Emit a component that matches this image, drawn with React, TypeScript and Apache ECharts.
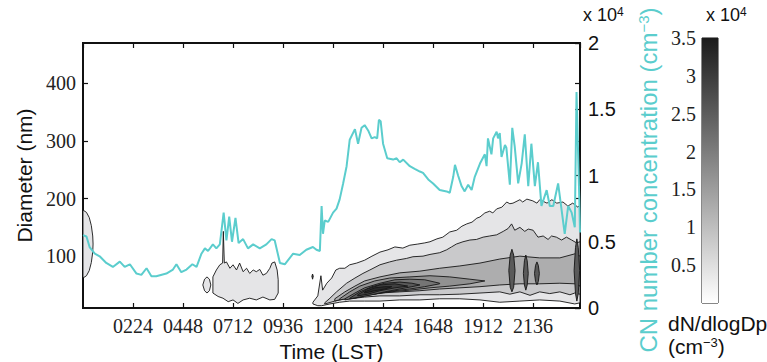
import React, { useEffect, useRef } from "react";
import * as echarts from "echarts";

// ---- Axis / tick labels ----
const timeTickLabels = ["0224", "0448", "0712", "0936", "1200", "1424", "1648", "1912", "2136"];
const TIME_STEP = 144; // minutes between tick labels

// ---- CN number concentration (x 10^4 cm^-3), time in minutes (LST) ----
const cnTime = [0, 10, 19, 34, 48, 67, 86, 106, 120, 135, 154, 168, 183, 197, 211, 240, 259, 269, 283, 298, 315, 327, 341, 351, 360, 374, 384, 394, 405, 413, 421, 429, 439, 448, 461, 475, 490, 509, 528, 543, 552, 567, 581, 605, 624, 643, 662, 672, 682, 687, 691, 696, 706, 720, 730, 739, 749, 759, 768, 783, 792, 802, 811, 821, 831, 840, 847, 852, 857, 864, 876, 893, 903, 912, 922, 941, 955, 970, 979, 994, 1008, 1027, 1047, 1056, 1066, 1071, 1080, 1090, 1099, 1109, 1119, 1128, 1143, 1157, 1162, 1166, 1176, 1181, 1191, 1195, 1200, 1205, 1215, 1219, 1229, 1236, 1243, 1253, 1263, 1272, 1282, 1291, 1301, 1310, 1320, 1335, 1344, 1354, 1368, 1378, 1387, 1397, 1407, 1416, 1421, 1429, 1431];
const cnValue = [0.55, 0.54, 0.46, 0.41, 0.39, 0.34, 0.31, 0.35, 0.31, 0.33, 0.26, 0.25, 0.3, 0.24, 0.24, 0.26, 0.29, 0.33, 0.27, 0.29, 0.33, 0.31, 0.41, 0.45, 0.43, 0.48, 0.45, 0.48, 0.72, 0.51, 0.69, 0.5, 0.68, 0.49, 0.52, 0.45, 0.48, 0.45, 0.48, 0.52, 0.51, 0.34, 0.33, 0.41, 0.4, 0.44, 0.46, 0.44, 0.43, 0.77, 0.56, 0.66, 0.65, 0.72, 0.75, 0.82, 0.94, 1.07, 1.27, 1.35, 1.24, 1.36, 1.38, 1.34, 1.28, 1.29, 1.28, 1.42, 1.41, 1.24, 1.13, 1.12, 1.13, 1.1, 1.12, 1.07, 1.05, 1.03, 1.02, 0.97, 0.94, 0.89, 0.88, 0.87, 0.99, 1.08, 1.0, 0.92, 0.88, 0.93, 0.89, 0.99, 1.09, 1.16, 1.07, 1.28, 1.16, 1.28, 1.33, 1.28, 1.32, 1.14, 1.23, 1.21, 0.93, 1.36, 1.22, 0.94, 1.09, 1.31, 0.92, 1.24, 0.92, 1.1, 0.77, 0.89, 0.77, 0.77, 0.94, 0.74, 0.56, 0.77, 0.72, 0.61, 1.63, 0.82, 0.57];

// ---- Size distribution contours (dN/dlogDp) ----
// each band: upper boundary (time min, diameter nm) and lower boundary (time min, diameter nm)
// main event, outermost level
const mainL1UpTime = [662, 676, 685, 690, 702, 716, 728, 739, 754, 768, 788, 811, 832, 855, 878, 898, 921, 941, 964, 984, 999, 1019, 1036, 1056, 1076, 1091, 1105, 1120, 1134, 1143, 1157, 1171, 1180, 1191, 1206, 1220, 1229, 1238, 1258, 1266, 1278, 1295, 1307, 1315, 1336, 1350, 1364, 1382, 1396, 1410, 1425, 1431];
const mainL1Upper = [20, 31, 66, 41, 53, 62, 76, 79, 79, 85, 88, 93, 100, 107, 111, 116, 114, 119, 121, 123, 125, 130, 133, 142, 145, 152, 156, 159, 166, 168, 175, 178, 175, 182, 185, 194, 191, 192, 198, 194, 199, 196, 192, 198, 192, 198, 192, 194, 187, 192, 185, 189];
const mainL1LoTime = [662, 676, 687, 711, 739, 768, 811, 855, 912, 970, 1027, 1085, 1143, 1200, 1258, 1315, 1373, 1416, 1431];
const mainL1Lower = [17, 14, 14, 17, 20, 22, 22, 22, 24, 24, 26, 26, 24, 20, 22, 24, 22, 17, 19];
const mainL2UpTime = [696, 711, 730, 759, 783, 806, 826, 855, 883, 903, 931, 950, 979, 999, 1027, 1047, 1061, 1075, 1094, 1114, 1133, 1152, 1171, 1191, 1210, 1224, 1234, 1243, 1258, 1272, 1282, 1296, 1310, 1325, 1339, 1349, 1363, 1378, 1392, 1407, 1421, 1431];
const mainL2Upper = [19, 27, 38, 53, 62, 70, 76, 85, 90, 93, 96, 99, 100, 103, 106, 111, 116, 121, 125, 128, 129, 133, 135, 137, 143, 148, 156, 145, 150, 143, 147, 145, 133, 135, 129, 135, 133, 128, 133, 128, 123, 125];
const mainL2LoTime = [696, 725, 754, 783, 811, 855, 912, 970, 1027, 1085, 1143, 1200, 1229, 1258, 1287, 1315, 1344, 1373, 1402, 1416, 1431];
const mainL2Lower = [17, 22, 26, 27, 29, 31, 31, 33, 33, 34, 36, 38, 34, 38, 32, 38, 35, 38, 33, 36, 34];
const mainL3Time = [725, 754, 783, 811, 855, 912, 970, 1027, 1085, 1143, 1200, 1258, 1315, 1373, 1416, 1431];
const mainL3Upper = [26, 38, 48, 57, 64, 71, 74, 79, 83, 88, 95, 100, 97, 97, 104, 100];
const mainL3Lower = [22, 27, 31, 33, 36, 38, 40, 43, 45, 47, 50, 52, 52, 53, 52, 48];
const mainL4Time = [739, 768, 797, 840, 883, 941, 999, 1056, 1114, 1157];
const mainL4Upper = [26, 38, 48, 57, 62, 64, 66, 64, 60, 57];
const mainL4Lower = [24, 27, 31, 34, 38, 41, 45, 48, 52, 57];
const mainL5Time = [754, 783, 811, 855, 898, 941, 984, 1027];
const mainL5Upper = [26, 36, 45, 53, 59, 60, 59, 53];
const mainL5Lower = [24, 27, 31, 36, 40, 43, 47, 52];
const mainL6Time = [768, 797, 832, 869, 912, 947, 970];
const mainL6Upper = [27, 38, 47, 53, 55, 53, 50];
const mainL6Lower = [26, 29, 33, 38, 43, 47, 50];
const mainL7Time = [791, 820, 855, 898, 935];
const mainL7Upper = [33, 43, 50, 52, 48];
const mainL7Lower = [31, 34, 40, 45, 48];
const mainL8Time = [811, 840, 869, 889];
const mainL8Upper = [38, 45, 47, 47];
const mainL8Lower = [36, 40, 43, 47];
// narrow dark streaks in the evening
const streakATime = [1226, 1230, 1235, 1240, 1244];
const streakAUpper = [75, 102, 112, 102, 75];
const streakALower = [75, 46, 38, 46, 75];
const streakBTime = [1268, 1271, 1275, 1279, 1282];
const streakBUpper = [70, 92, 102, 92, 70];
const streakBLower = [70, 50, 41, 50, 70];
const streakCTime = [1300, 1303, 1307, 1311, 1314];
const streakCUpper = [70, 84, 90, 84, 70];
const streakCLower = [70, 56, 50, 56, 70];
const streakDTime = [1414, 1418, 1422, 1426, 1430];
const streakDUpper = [75, 115, 130, 115, 75];
const streakDLower = [75, 35, 22, 35, 75];
const tickMarkTime = [659, 661, 663];
const tickMarkUpper = [65, 69, 65];
const tickMarkLower = [65, 60, 65];
// morning blob
const mornUpTime = [374, 384, 394, 402, 404, 407, 413, 423, 432, 442, 451, 461, 471, 480, 490, 499, 509, 518, 528, 538, 544, 552, 559, 562];
const mornUpper = [64, 76, 85, 88, 143, 88, 90, 79, 85, 76, 88, 73, 79, 70, 76, 73, 77, 67, 70, 79, 88, 90, 76, 59];
const mornLoTime = [374, 389, 403, 418, 432, 446, 461, 480, 499, 518, 538, 552, 562];
const mornLower = [36, 30, 27, 21, 24, 18, 24, 27, 24, 29, 24, 25, 36];
const mornSmallTime = [345, 350, 357, 364, 368];
const mornSmallUpper = [50, 60, 64, 60, 50];
const mornSmallLower = [50, 40, 36, 40, 50];
// midnight blob at left edge
const nightTime = [0, 10, 18, 24, 28, 29];
const nightUpper = [180, 176, 167, 153, 135, 121];
const nightLower = [62, 66, 75, 89, 107, 121];

// ---- colour levels ----
const levelColors = ["#e5e5e7", "#c9c9cb", "#adadae", "#919191", "#757575", "#5a5a5a", "#404040", "#2a2a2a"];

const band = (tu: number[], up: number[], tl: number[], lo: number[], c: string) => ({ tu, up, tl, lo, c });
const bands = [
  band(nightTime, nightUpper, nightTime, nightLower, levelColors[0]),
  band(mornSmallTime, mornSmallUpper, mornSmallTime, mornSmallLower, levelColors[0]),
  band(mornUpTime, mornUpper, mornLoTime, mornLower, levelColors[0]),
  band(tickMarkTime, tickMarkUpper, tickMarkTime, tickMarkLower, levelColors[5]),
  band(mainL1UpTime, mainL1Upper, mainL1LoTime, mainL1Lower, levelColors[0]),
  band(mainL2UpTime, mainL2Upper, mainL2LoTime, mainL2Lower, levelColors[1]),
  band(mainL3Time, mainL3Upper, mainL3Time, mainL3Lower, levelColors[2]),
  band(mainL4Time, mainL4Upper, mainL4Time, mainL4Lower, levelColors[3]),
  band(mainL5Time, mainL5Upper, mainL5Time, mainL5Lower, levelColors[4]),
  band(mainL6Time, mainL6Upper, mainL6Time, mainL6Lower, levelColors[5]),
  band(mainL7Time, mainL7Upper, mainL7Time, mainL7Lower, levelColors[6]),
  band(mainL8Time, mainL8Upper, mainL8Time, mainL8Lower, levelColors[7]),
  band(streakATime, streakAUpper, streakATime, streakALower, levelColors[5]),
  band(streakBTime, streakBUpper, streakBTime, streakBLower, levelColors[5]),
  band(streakCTime, streakCUpper, streakCTime, streakCLower, levelColors[5]),
  band(streakDTime, streakDUpper, streakDTime, streakDLower, levelColors[5]),
];

const colorbarMax = 3.5;

const SERIF = "Liberation Serif";
const SANS = "Liberation Sans";
const TEAL = "#5bcdcd";

export default function App() {
  const ref = useRef<HTMLDivElement>(null);

  useEffect(() => {
    if (!ref.current) return;
    const chart = echarts.init(ref.current, undefined, { renderer: "svg" });

    const timeFmt = (v: number) => {
      const i = Math.round(v / TIME_STEP) - 1;
      return Math.abs(v - (i + 1) * TIME_STEP) < 1e-6 && i >= 0 && i < timeTickLabels.length ? timeTickLabels[i] : "";
    };

    const frameLine = () => ({ show: true, onZero: false, lineStyle: { color: "#111", width: 2 } });
    const inTick = () => ({ show: true, inside: true, length: 5, lineStyle: { color: "#111", width: 1.2 } });

    const option: any = {
      animation: false,
      backgroundColor: "#ffffff",
      grid: [
        { left: 83, top: 43, width: 497, height: 265, containLabel: false, outerBoundsMode: "none", show: true, borderColor: "#111", borderWidth: 2, backgroundColor: "transparent" },
        { left: 702, top: 38, width: 16, height: 265, containLabel: false, outerBoundsMode: "none", show: true, borderColor: "#111", borderWidth: 1, backgroundColor: "transparent" },
      ],
      xAxis: [
        {
          type: "value", gridIndex: 0, min: 0, max: 1431, interval: TIME_STEP, position: "bottom",
          axisLine: frameLine(), axisTick: inTick(),
          axisLabel: { show: true, formatter: timeFmt, showMinLabel: false, showMaxLabel: false, fontFamily: SERIF, fontSize: 20, color: "#222", margin: 8 },
          splitLine: { show: false },
          name: "Time (LST)", nameLocation: "middle", nameGap: 30,
          nameTextStyle: { fontFamily: SANS, fontSize: 21, color: "#111" },
        },
        {
          type: "value", gridIndex: 0, min: 0, max: 1431, interval: TIME_STEP, position: "top",
          axisLine: frameLine(), axisTick: inTick(),
          axisLabel: { show: false }, splitLine: { show: false },
        },
        { type: "category", gridIndex: 1, data: ["c"], show: false, boundaryGap: false },
      ],
      yAxis: [
        {
          type: "value", gridIndex: 0, min: 10, max: 470, position: "left",
          axisLine: frameLine(), axisTick: inTick(),
          axisLabel: { formatter: (v: number) => (v % 100 === 0 ? String(v) : ""), showMinLabel: false, showMaxLabel: false, fontFamily: SERIF, fontSize: 20, color: "#222", margin: 7 },
          splitLine: { show: false },
          name: "Diameter (nm)", nameLocation: "middle", nameGap: 48, nameRotate: 90,
          nameTextStyle: { fontFamily: SANS, fontSize: 21, color: "#111" },
        },
        {
          type: "value", gridIndex: 0, min: 0, max: 2, interval: 0.5, position: "right",
          axisLine: frameLine(), axisTick: inTick(),
          axisLabel: { fontFamily: SANS, fontSize: 20, color: "#111", margin: 8 },
          splitLine: { show: false },
        },
        {
          type: "value", gridIndex: 0, min: 10, max: 470, position: "right",
          axisLine: { show: false, onZero: false },
          axisTick: inTick(),
          axisLabel: { show: false }, splitLine: { show: false },
        },
        {
          type: "value", gridIndex: 1, min: 0, max: colorbarMax, interval: 0.5, position: "left",
          axisLine: { show: false, onZero: false },
          axisTick: { show: true, inside: true, length: 3, lineStyle: { color: "#111", width: 1 } },
          axisLabel: { showMinLabel: false, fontFamily: SERIF, fontSize: 20, color: "#222", margin: 6 },
          splitLine: { show: false },
        },
      ],
      series: [
        {
          type: "custom",
          xAxisIndex: 0,
          yAxisIndex: 0,
          z: 2,
          clip: true,
          data: bands.map((b) => [b.tu[0], b.lo[0]]),
          renderItem: (params: any, api: any) => {
            const b = bands[params.dataIndex];
            const pts: number[][] = [];
            for (let i = 0; i < b.tu.length; i++) pts.push(api.coord([b.tu[i], b.up[i]]));
            for (let i = b.tl.length - 1; i >= 0; i--) pts.push(api.coord([b.tl[i], b.lo[i]]));
            return {
              type: "polygon",
              shape: { points: pts },
              style: { fill: b.c, stroke: "#151515", lineWidth: 0.9, lineJoin: "round" },
            };
          },
        },
        {
          type: "line",
          xAxisIndex: 0,
          yAxisIndex: 1,
          z: 5,
          showSymbol: false,
          symbol: "none",
          data: cnTime.map((t, i) => [t, cnValue[i]]),
          lineStyle: { color: TEAL, width: 2 },
        },
        {
          type: "bar",
          xAxisIndex: 2,
          yAxisIndex: 3,
          barWidth: "100%",
          data: [colorbarMax],
          itemStyle: {
            color: new echarts.graphic.LinearGradient(0, 0, 0, 1, [
              { offset: 0, color: "#1b1b1b" },
              { offset: 1, color: "#ffffff" },
            ]),
          },
        },
      ],
      graphic: [
        {
          type: "text", x: 583, y: 6,
          style: {
            text: "{a|x 10}{s|4}",
            rich: { a: { fontFamily: SANS, fontSize: 18, fill: "#111" }, s: { fontFamily: SANS, fontSize: 12, fill: "#111", verticalAlign: "top" } },
          },
        },
        {
          type: "text", x: 706, y: 6,
          style: {
            text: "{a|x 10}{s|4}",
            rich: { a: { fontFamily: SANS, fontSize: 18, fill: "#111" }, s: { fontFamily: SANS, fontSize: 12, fill: "#111", verticalAlign: "top" } },
          },
        },
        {
          type: "text", x: 648, y: 180, rotation: Math.PI / 2,
          style: {
            text: "{a|CN number concentration (cm}{s|−3}{a|)}",
            align: "center", verticalAlign: "middle",
            rich: { a: { fontFamily: SANS, fontSize: 24, fill: TEAL }, s: { fontFamily: SANS, fontSize: 15, fill: TEAL, verticalAlign: "top" } },
          },
        },
        {
          type: "text", x: 668, y: 313,
          style: { text: "dN/dlogDp", fontFamily: SANS, fontSize: 21, fill: "#111" },
        },
        {
          type: "text", x: 668, y: 336,
          style: {
            text: "{a|(cm}{s|−3}{a|)}",
            rich: { a: { fontFamily: SANS, fontSize: 21, fill: "#111" }, s: { fontFamily: SANS, fontSize: 13, fill: "#111", verticalAlign: "top" } },
          },
        },
      ],
    };

    chart.setOption(option);
    return () => chart.dispose();
  }, []);

  return <div ref={ref} style={{ position: "fixed", left: 0, top: 0, width: 767, height: 362 }} />;
}
